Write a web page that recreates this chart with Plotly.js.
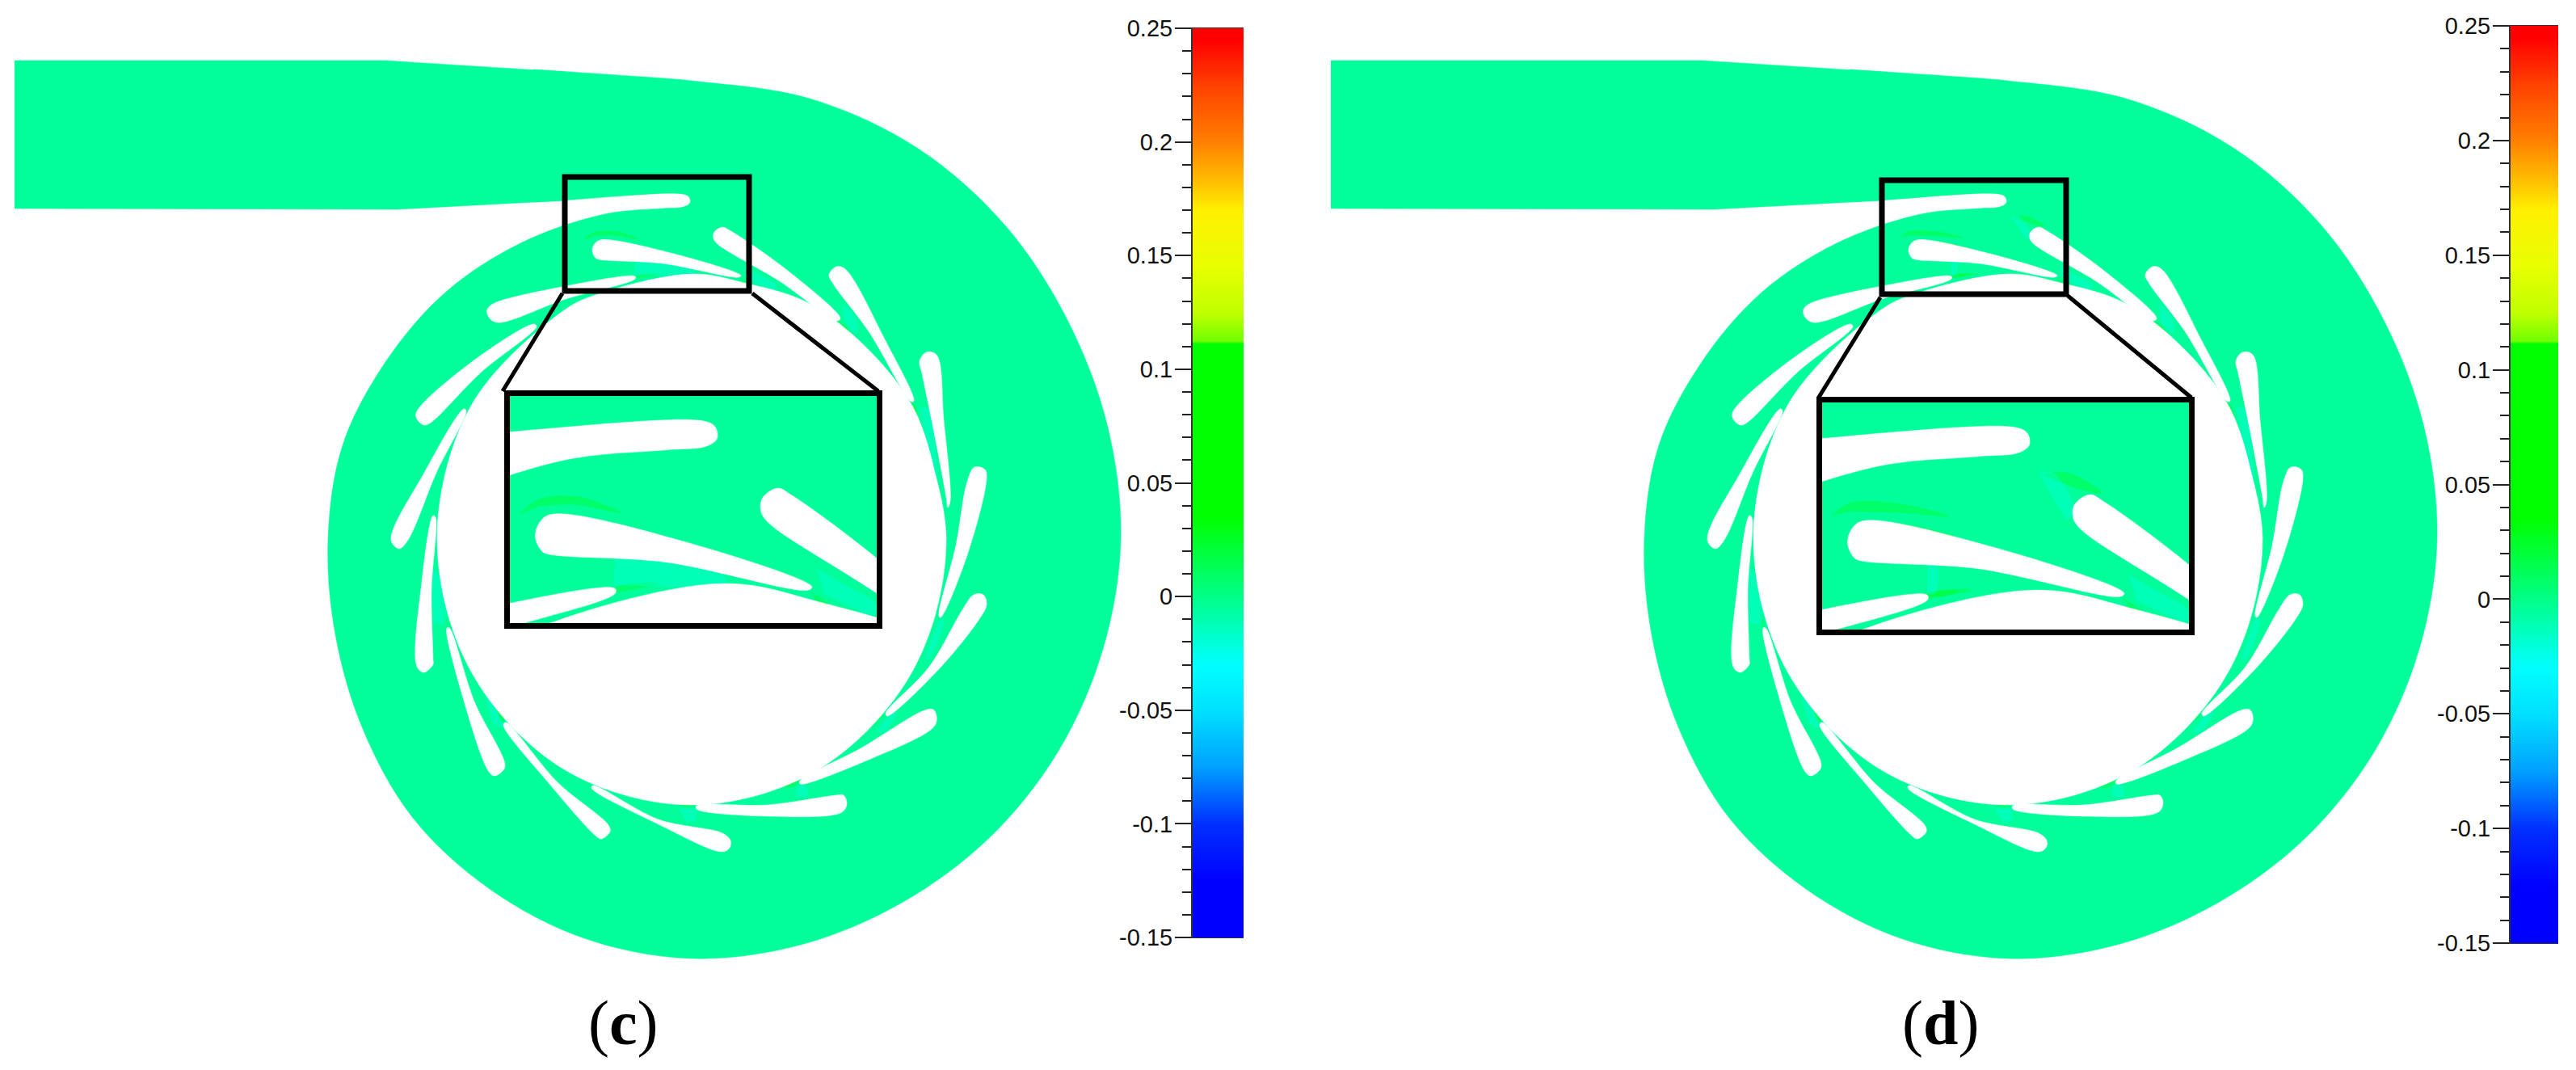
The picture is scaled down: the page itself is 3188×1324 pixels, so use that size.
<!DOCTYPE html>
<html>
<head>
<meta charset="utf-8">
<script src="https://cdn.plot.ly/plotly-3.0.1.min.js"></script>
<style>
    html, body { margin: 0; padding: 0; background: #fff; }
</style>
</head>
<body>
<div id="chart" style="width:3188px;height:1324px"></div>
<script>
// outlines, in picture pixels; panel (d) is the same pump shifted right
const inletX = [18, 478, 700, 700, 492, 18];
const inletY = [75, 75, 89, 248, 259, 258];
const voluteX = [660, 780, 856, 1002, 1135, 1244, 1322, 1371, 1387, 1365, 1310, 1225, 1116, 991, 856, 723, 606, 511, 449, 415, 406, 424, 477, 551, 644, 748, 820, 846, 854, 853, 845, 696, 660];
const voluteY = [86, 94, 100, 122, 183, 279, 398, 529, 667, 803, 929, 1036, 1117, 1169, 1186, 1161, 1100, 1012, 902, 785, 667, 551, 448, 362, 301, 265, 258, 256, 251, 244, 240, 248, 250];
const holeX = [1171, 1129, 1013, 917, 856, 746, 698, 583, 541, 583, 698, 856, 1013, 1129, 1171, 1129];
const holeY = [667, 502, 382, 349, 339, 362, 384, 502, 667, 831, 952, 996, 952, 831, 667, 502];

const vanes = [
    [[743, 297], [830, 313], [917, 341], [914, 343], [820, 326], [741, 321], [737, 319], [733, 311], [735, 303], [743, 297]],
    [[894, 281], [903, 285], [975, 335], [1040, 394], [1036, 397], [965, 348], [888, 302], [883, 295], [884, 287], [894, 281]],
    [[1035, 330], [1046, 333], [1095, 420], [1131, 496], [1128, 497], [1075, 410], [1031, 351], [1026, 340], [1035, 330]],
    [[1146, 436], [1159, 439], [1168, 520], [1176, 620], [1173, 628], [1171, 615], [1155, 530], [1141, 462], [1138, 447], [1146, 436]],
    [[1206, 578], [1219, 581], [1221, 592], [1197, 687], [1164, 764], [1162, 762], [1183, 675], [1197, 596], [1206, 578]],
    [[1205, 736], [1217, 736], [1221, 748], [1212, 766], [1160, 830], [1098, 886], [1096, 883], [1150, 825], [1192, 753], [1205, 736]],
    [[1144, 879], [1155, 878], [1159, 886], [1156, 899], [1075, 940], [990, 970], [990, 966], [1065, 926], [1144, 879]],
    [[1035, 984], [1044, 984], [1048, 994], [1042, 1005], [950, 1010], [862, 1001], [862, 997], [950, 996], [1035, 984]],
    [[894, 1031], [904, 1040], [903, 1049], [894, 1054], [815, 1020], [732, 975], [734, 972], [815, 1014], [894, 1031]],
    [[753, 1021], [755, 1029], [744, 1038], [737, 1034], [680, 970], [623, 897], [626, 894], [690, 968], [753, 1021]],
    [[625, 947], [621, 955], [612, 960], [605, 955], [572, 860], [553, 777], [556, 777], [587, 868], [625, 947]],
    [[536, 816], [536, 822], [525, 832], [516, 825], [522, 720], [536, 638], [539, 640], [534, 730], [536, 816]],
    [[574, 506], [577, 508], [540, 585], [505, 668], [494, 679], [484, 668], [525, 585], [574, 506]],
    [[515, 511], [585, 447], [661, 401], [664, 404], [595, 461], [533, 523], [525, 526], [517, 520], [515, 511]],
    [[610, 376], [695, 355], [786, 342], [786, 345], [700, 370], [615, 399], [604, 391], [603, 383], [610, 376]],
];

// colour patches in the flow: green is a bit above the field value, cyan a bit below
const greenTails = [
    [[1036, 396], [1046, 403], [1052, 412], [1041, 403]],
    [[1126, 497], [1133, 503], [1136, 530], [1128, 512]],
    [[1097, 884], [1088, 890], [1082, 897], [1090, 886]],
    [[990, 966], [985, 972], [968, 974], [980, 968]],
    [[838, 995], [860, 998], [848, 1000]],
    [[612, 870], [624, 892], [618, 890]],
    [[548, 750], [554, 775], [551, 768]],
    [[782, 345], [790, 340], [815, 339], [795, 343]],
];
const cyanWakes = [
    [[1042, 375], [1060, 395], [1060, 412], [1045, 398]],
    [[1138, 505], [1148, 505], [1160, 600], [1150, 560]],
    [[1160, 770], [1168, 765], [1150, 815], [1145, 815]],
    [[1096, 890], [1110, 880], [1095, 905], [1085, 905]],
    [[985, 972], [995, 970], [1000, 985], [985, 985]],
    [[840, 1000], [860, 1000], [860, 1015], [850, 1017]],
    [[600, 860], [615, 880], [622, 900], [610, 895]],
    [[534, 700], [546, 720], [550, 770], [536, 770]],
    [[920, 330], [935, 338], [960, 352], [960, 358], [925, 345]],
];
const greenOnlyC = [
    [[722, 297], [735, 288], [760, 286], [790, 296], [760, 291], [735, 292]],
    [[916, 344], [935, 356], [920, 350]],
];
const cyanOnlyC = [
    [[786, 322], [798, 322], [850, 328], [860, 338], [790, 340], [785, 340]],
];
const greenOnlyD = [
    [[861, 269], [880, 268], [902, 280], [885, 277]],
    [[740, 297], [770, 299], [804, 306], [770, 303]],
    [[722, 294], [735, 286], [770, 287], [800, 294], [770, 292], [735, 291]],
    [[780, 343], [790, 340], [805, 340], [795, 343]],
    [[916, 344], [935, 356], [920, 350]],
];
const cyanOnlyD = [
    [[860, 268], [870, 268], [884, 292], [878, 296]],
    [[786, 323], [792, 323], [791, 341], [786, 341]],
];

// frames, picture pixels of the view they sit in
const boxCX = [699, 927, 927, 699, 699, 927];
const boxCY = [219, 219, 360, 360, 219, 219];
const boxDX = [700, 928, 928, 700, 700, 928];
const boxDY = [223, 223, 364, 364, 223, 223];

// colour bar: levels and the colour each level has
const barLevels = [0.25, 0.245, 0.24, 0.235, 0.23, 0.225, 0.22, 0.215, 0.21, 0.205, 0.2, 0.195, 0.19, 0.185, 0.18, 0.175, 0.17, 0.165, 0.16, 0.155, 0.15, 0.145, 0.14, 0.135, 0.13, 0.125, 0.12, 0.115, 0.11, 0.105, 0.1, 0.095, 0.09, 0.085, 0.08, 0.075, 0.07, 0.065, 0.06, 0.055, 0.05, 0.045, 0.04, 0.035, 0.03, 0.025, 0.02, 0.015, 0.01, 0.005, 0, -0.005, -0.01, -0.015, -0.02, -0.025, -0.03, -0.035, -0.04, -0.045, -0.05, -0.055, -0.06, -0.065, -0.07, -0.075, -0.08, -0.085, -0.09, -0.095, -0.1, -0.105, -0.11, -0.115, -0.12, -0.125, -0.13, -0.135, -0.14, -0.145, -0.15];
const barStopValues = [-0.15, -0.125, -0.1, -0.075, -0.05, -0.03, -0.005, 0.035, 0.1115, 0.1125, 0.125, 0.145, 0.17, 0.18, 0.2, 0.225, 0.245, 0.25];
const barStopColors = ["#0000ff", "#0000ff", "#0030ff", "#00a0ff", "#00e0ff", "#00ffff", "#00ff9b", "#00ff00", "#00ff00", "#70ff00", "#c0ff00", "#e8ff00", "#fff000", "#ffc800", "#ff8000", "#ff4000", "#ff0000", "#ff0000"];
const tickValues = [0.25, 0.2, 0.15, 0.1, 0.05, 0, -0.05, -0.1, -0.15];
const tickLabels = ["0.25", "0.2", "0.15", "0.1", "0.05", "0", "-0.05", "-0.1", "-0.15"];

const W = 3188;
const H = 1324;
const FIELD = "#00ff9b";
const GREEN = "rgba(0,255,30,0.4)";
const CYAN = "rgba(0,255,225,0.4)";
const SHIFT_D = 1629;

const xs = (pts) => pts.map((p) => p[0]);
const ys = (pts) => pts.map((p) => p[1]);

function blob(x, y, color, xa, ya, shape) {
    return {
        type: "scatter",
        mode: "lines",
        x: x,
        y: y,
        xaxis: xa,
        yaxis: ya,
        fill: "toself",
        fillcolor: color,
        line: { color: color, width: 0.5, shape: shape || "spline", smoothing: 1, simplify: false },
        hoverinfo: "skip",
    };
}

function pumpTraces(xa, ya, greens, cyans) {
    let out = [
        blob(inletX, inletY, FIELD, xa, ya, "linear"),
        blob(voluteX, voluteY, FIELD, xa, ya),
    ];
    greens.concat(greenTails).forEach((p) => out.push(blob(xs(p), ys(p), GREEN, xa, ya)));
    cyans.concat(cyanWakes).forEach((p) => out.push(blob(xs(p), ys(p), CYAN, xa, ya)));
    out.push(blob(holeX, holeY, "#ffffff", xa, ya));
    vanes.forEach((v) => out.push(blob(xs(v), ys(v), "#ffffff", xa, ya)));
    return out;
}

function frameLine(x, y, xa, ya, width) {
    return {
        type: "scatter",
        mode: "lines",
        x: x,
        y: y,
        xaxis: xa,
        yaxis: ya,
        line: { color: "#000000", width: width, simplify: false },
        hoverinfo: "skip",
    };
}

function barTrace(xa, ya) {
    return {
        type: "heatmap",
        x: [0, 1],
        y: barLevels,
        z: barLevels.map((v) => [v, v]),
        zmin: -0.15,
        zmax: 0.25,
        zsmooth: "best",
        colorscale: barStopValues.map((v, i) => [(v + 0.15) / 0.4, barStopColors[i]]),
        showscale: false,
        xaxis: xa,
        yaxis: ya,
        hoverinfo: "skip",
    };
}

const hidden = { visible: false, fixedrange: true };

function insetX(l, r, anchor) {
    return { domain: [l / W, r / W], anchor: anchor, range: [716, 960], showline: true, mirror: true, linewidth: 7, linecolor: "#000", showticklabels: false, ticks: "", showgrid: false, zeroline: false };
}
function insetY(t, b, anchor) {
    return { domain: [1 - b / H, 1 - t / H], anchor: anchor, range: [363, 225], showline: true, mirror: true, linewidth: 7, linecolor: "#000", showticklabels: false, ticks: "", showgrid: false, zeroline: false };
}
function barX(l, r, anchor) {
    return { domain: [l / W, r / W], anchor: anchor, range: [0, 1], showline: true, mirror: true, linewidth: 1, linecolor: "#333", showticklabels: false, ticks: "", showgrid: false, zeroline: false };
}
function barY(t, b, anchor) {
    return {
        domain: [1 - b / H, 1 - t / H],
        anchor: anchor,
        range: [-0.15, 0.25],
        showline: true,
        linewidth: 2,
        linecolor: "#333",
        showgrid: false,
        zeroline: false,
        tickmode: "array",
        tickvals: tickValues,
        ticktext: tickLabels,
        ticks: "outside",
        ticklen: 20,
        tickwidth: 2,
        tickcolor: "#222",
        ticklabelstandoff: -3,
        tickfont: { family: "Liberation Sans, Arial, sans-serif", size: 29, color: "#111" },
        minor: { dtick: 0.01, tick0: 0, ticks: "outside", ticklen: 11, tickwidth: 2, tickcolor: "#222", showgrid: false },
    };
}

let data = [];
// (c) and (d) main views, both span the page
data = data.concat(pumpTraces("x", "y", greenOnlyC, cyanOnlyC));
data.push(frameLine(boxCX, boxCY, "x", "y", 7));
data.push(frameLine([696, 622], [363, 484], "x", "y", 5));
data.push(frameLine([931, 1087], [363, 484], "x", "y", 5));

data = data.concat(pumpTraces("x2", "y2", greenOnlyD, cyanOnlyD));
data.push(frameLine(boxDX, boxDY, "x2", "y2", 7));
data.push(frameLine([698, 621], [368, 493], "x2", "y2", 5));
data.push(frameLine([930, 1083], [366, 492], "x2", "y2", 5));

// enlarged views
data = data.concat(pumpTraces("x3", "y3", greenOnlyC, cyanOnlyC));
data = data.concat(pumpTraces("x4", "y4", greenOnlyD, cyanOnlyD));

data.push(barTrace("x5", "y5"));
data.push(barTrace("x6", "y6"));

const labelFont = { family: "Liberation Serif, Times New Roman, serif", size: 78, color: "#000" };

const layout = {
    width: W,
    height: H,
    margin: { l: 0, r: 0, t: 0, b: 0 },
    paper_bgcolor: "#ffffff",
    plot_bgcolor: "rgba(0,0,0,0)",
    showlegend: false,
    xaxis: { ...hidden, domain: [0, 1], range: [0, W], anchor: "y" },
    yaxis: { ...hidden, domain: [0, 1], range: [H, 0], anchor: "x" },
    xaxis2: { ...hidden, domain: [0, 1], range: [-SHIFT_D, W - SHIFT_D], anchor: "y2" },
    yaxis2: { ...hidden, domain: [0, 1], range: [H, 0], anchor: "x2" },
    xaxis3: insetX(631, 1085, "y3"),
    yaxis3: insetY(490, 771, "x3"),
    xaxis4: insetX(2255, 2709, "y4"),
    yaxis4: insetY(498, 779, "x4"),
    xaxis5: barX(1476, 1539, "y5"),
    yaxis5: barY(35, 1160, "x5"),
    xaxis6: barX(3107, 3166, "y6"),
    yaxis6: barY(32, 1167, "x6"),
    annotations: [
        { text: "(<b>c</b>)", x: 771 / W, y: 1 - 1265 / H, xref: "paper", yref: "paper", xanchor: "center", yanchor: "middle", showarrow: false, font: labelFont },
        { text: "(<b>d</b>)", x: 2401 / W, y: 1 - 1265 / H, xref: "paper", yref: "paper", xanchor: "center", yanchor: "middle", showarrow: false, font: labelFont },
    ],
};

Plotly.newPlot("chart", data, layout, { displayModeBar: false, staticPlot: true });
</script>
</body>
</html>
